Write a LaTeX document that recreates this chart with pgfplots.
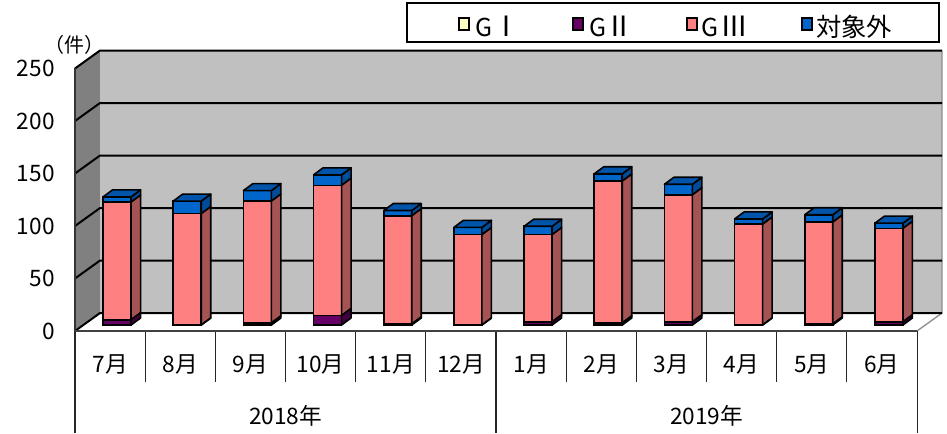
\documentclass[border=0pt]{standalone}
\usepackage{fontspec}
\setmainfont{Noto Sans CJK JP}
\usepackage{pgfplots}
\usepackage{pgfplotstable}
\pgfplotsset{compat=1.18}

\definecolor{cGI}{HTML}{FFFFCC}
\definecolor{cGII}{HTML}{660066}
\definecolor{cGIIs}{HTML}{3F003F}
\definecolor{cGIII}{HTML}{FF8080}
\definecolor{cGIIIs}{HTML}{A65353}
\definecolor{cOth}{HTML}{0066CC}
\definecolor{cOtht}{HTML}{0055AA}
\definecolor{cOths}{HTML}{004C99}
\definecolor{wallback}{HTML}{C0C0C0}
\definecolor{wallleft}{HTML}{808080}

\pgfplotstableread{
x    gi gii giii oth
0.5  0  5  112  5
1.5  0  0  106  12
2.5  0  2  116  10
3.5  0  9  124  10
4.5  0  1  103  5
5.5  0  0  86   7
6.5  0  3  83   8
7.5  0  2  135  7
8.5  0  3  121  10
9.5  0  0  96   5
10.5 0  1  97   7
11.5 0  3  89   5
}\datatable

\pgfdeclareplotmark{blank}{}

\pgfplotsset{
  front face/.style={ybar, bar width=21pt, bar shift=5.25pt, fill=#1, draw=black, line width=1.2pt, forget plot},
  side face/.style 2 args={only marks, mark=blank, scatter, forget plot,
    visualization depends on={\thisrow{#1} \as \hseg},
    scatter/@pre marker code/.code={%
      \filldraw[fill=#2, draw=black, line width=1.2pt, line join=round]
        (15.75pt,0pt) -- ++(7.1pt,5.25pt) -- ++(0pt,{-\hseg*0.7875pt}) -- ++(-7.1pt,-5.25pt) -- cycle;},
    scatter/@post marker code/.code={}},
  top face/.style={scatter/@pre marker code/.append code={%
      \filldraw[fill=#1, draw=black, line width=1.2pt, line join=round]
        (-5.25pt,0pt) -- (15.75pt,0pt) -- ++(7.1pt,5.25pt) -- ++(-21pt,0pt) -- cycle;}},
}

\begin{document}
\begin{tikzpicture}
\useasboundingbox (-56.25pt,-76.5pt) rectangle (654pt,248.25pt);
\begin{axis}[
  at={(0pt,0pt)}, anchor=south west,
  x=52.6275pt, y=0.7875pt,
  xmin=0, xmax=12, ymin=-5.72, ymax=244.28,
  clip=false,
  axis line style={draw=none},
  major tick length=0pt,
  xtick={0.5,1.5,...,11.5},
  xticklabels={7月,8月,9月,10月,11月,12月,1月,2月,3月,4月,5月,6月},
  xticklabel style={anchor=center, inner sep=0pt, yshift=-24.75pt, font=\fontsize{17}{18}\selectfont},
  ytick={-5.72,44.28,94.28,144.28,194.28,244.28},
  yticklabels={0,50,100,150,200,250},
  yticklabel style={anchor=east, inner sep=0pt, xshift=-15pt, font=\fontsize{17}{18}\selectfont},
]
% walls
\fill[wallleft] (axis cs:0,-5.72) -- (axis cs:0,244.28) -- (axis cs:0.3563,261.42) -- (axis cs:0.3563,11.42) -- cycle;
\fill[wallback] (axis cs:0.3563,11.42) rectangle (axis cs:12.3563,261.42);
\draw[black!45, line width=1pt] (axis cs:12,-5.72) -- (axis cs:12.3563,11.42) -- (axis cs:12.3563,261.42);
\draw[black, line width=1.5pt] (axis cs:0,-5.72) -- (axis cs:0.3563,11.42) -- (axis cs:12.3563,11.42);
\draw[black, line width=1.5pt] (axis cs:0,44.28) -- (axis cs:0.3563,61.42) -- (axis cs:12.3563,61.42);
\draw[black, line width=1.5pt] (axis cs:0,94.28) -- (axis cs:0.3563,111.42) -- (axis cs:12.3563,111.42);
\draw[black, line width=1.5pt] (axis cs:0,144.28) -- (axis cs:0.3563,161.42) -- (axis cs:12.3563,161.42);
\draw[black, line width=1.5pt] (axis cs:0,194.28) -- (axis cs:0.3563,211.42) -- (axis cs:12.3563,211.42);
\draw[black, line width=1.5pt] (axis cs:0,244.28) -- (axis cs:0.3563,261.42) -- (axis cs:12.3563,261.42);
\draw[black!80, line width=1.2pt] (axis cs:0,-5.72) -- (axis cs:0,244.28);
% category separators
\draw[black!85, line width=0.8pt] (axis cs:0,-5.72) -- (axis cs:0,-102.9);
\draw[black!85, line width=0.8pt] (axis cs:6,-5.72) -- (axis cs:6,-102.9);
\draw[black!85, line width=0.8pt] (axis cs:12,-5.72) -- (axis cs:12,-102.9);
\draw[black!85, line width=0.8pt] (axis cs:1,-5.72) -- (axis cs:1,-54.3);
\draw[black!85, line width=0.8pt] (axis cs:2,-5.72) -- (axis cs:2,-54.3);
\draw[black!85, line width=0.8pt] (axis cs:3,-5.72) -- (axis cs:3,-54.3);
\draw[black!85, line width=0.8pt] (axis cs:4,-5.72) -- (axis cs:4,-54.3);
\draw[black!85, line width=0.8pt] (axis cs:5,-5.72) -- (axis cs:5,-54.3);
\draw[black!85, line width=0.8pt] (axis cs:7,-5.72) -- (axis cs:7,-54.3);
\draw[black!85, line width=0.8pt] (axis cs:8,-5.72) -- (axis cs:8,-54.3);
\draw[black!85, line width=0.8pt] (axis cs:9,-5.72) -- (axis cs:9,-54.3);
\draw[black!85, line width=0.8pt] (axis cs:10,-5.72) -- (axis cs:10,-54.3);
\draw[black!85, line width=0.8pt] (axis cs:11,-5.72) -- (axis cs:11,-54.3);
\draw[black!75, line width=1.5pt] (axis cs:0,-5.72) -- (axis cs:12,-5.72);

% front faces (cumulative stacks, drawn top layer first)
\addplot[front face=cOth] table[x=x, y expr=\thisrow{gi}+\thisrow{gii}+\thisrow{giii}+\thisrow{oth}] {\datatable};
\addplot[front face=cGIII] table[x=x, y expr=\thisrow{gi}+\thisrow{gii}+\thisrow{giii}] {\datatable};
\addplot[front face=cGII] table[x=x, y expr=\thisrow{gi}+\thisrow{gii}] {\datatable};
% side and top faces
\addplot[side face={oth}{cOths}, top face=cOtht] table[x=x, y expr=\thisrow{gi}+\thisrow{gii}+\thisrow{giii}+\thisrow{oth}] {\datatable};
\addplot[side face={giii}{cGIIIs}] table[x=x, y expr=\thisrow{gi}+\thisrow{gii}+\thisrow{giii}] {\datatable};
\addplot[side face={gii}{cGIIs}] table[x=x, y expr=\thisrow{gi}+\thisrow{gii}] {\datatable};

% year labels and unit
\node[font=\fontsize{17}{18}\selectfont] at (axis cs:3,-86.7) {2018年};
\node[font=\fontsize{17}{18}\selectfont] at (axis cs:9,-86.7) {2019年};
\node[font=\fontsize{15}{16}\selectfont] at (axis cs:0,266.7) {（件）};

% legend
\draw[black, line width=0.9pt, fill=white] (axis cs:4.731,306.67) rectangle (axis cs:12.313,269.52);
\node[draw=black, line width=1.5pt, fill=cGI, minimum width=7.5pt, minimum height=8.7pt, inner sep=0pt] at (axis cs:5.537,286.67) {};
\node[draw=black, line width=1.5pt, fill=cGII, minimum width=7.5pt, minimum height=8.7pt, inner sep=0pt] at (axis cs:7.168,286.67) {};
\node[draw=black, line width=1.5pt, fill=cGIII, minimum width=7.5pt, minimum height=8.7pt, inner sep=0pt] at (axis cs:8.793,286.67) {};
\node[draw=black, line width=1.5pt, fill=cOth, minimum width=7.5pt, minimum height=8.7pt, inner sep=0pt] at (axis cs:10.425,286.67) {};
\node[anchor=base, inner sep=0pt, font=\fontsize{18.5}{19}\selectfont] at (axis cs:5.830,274.3) {G};
\node[anchor=base, inner sep=0pt, font=\fontsize{21}{22}\selectfont] at (axis cs:6.150,274.3) {Ⅰ};
\node[anchor=base, inner sep=0pt, font=\fontsize{18.5}{19}\selectfont] at (axis cs:7.455,274.3) {G};
\node[anchor=base, inner sep=0pt, font=\fontsize{21}{22}\selectfont] at (axis cs:7.760,274.3) {Ⅱ};
\node[anchor=base, inner sep=0pt, font=\fontsize{18.5}{19}\selectfont] at (axis cs:9.050,274.3) {G};
\node[anchor=base, inner sep=0pt, font=\fontsize{21}{22}\selectfont] at (axis cs:9.400,274.3) {Ⅲ};
\node[anchor=base west, inner sep=0pt, font=\fontsize{19}{20}\selectfont] at (axis cs:10.560,275.2) {対象外};
\end{axis}
\end{tikzpicture}
\end{document}
